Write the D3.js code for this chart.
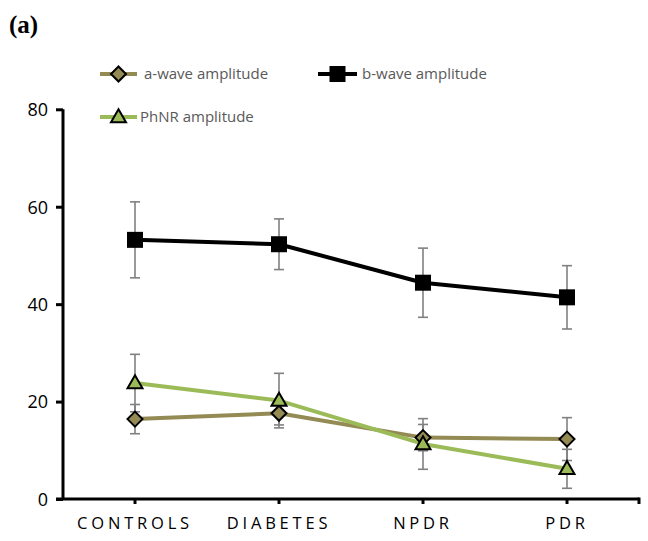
<!DOCTYPE html>
<html>
<head>
<meta charset="utf-8">
<script src="https://cdn.jsdelivr.net/npm/d3@7"></script>
<style>
  html, body { margin: 0; padding: 0; background: #fff; }
  svg { display: block; }
</style>
</head>
<body>
<svg id="chart" width="648" height="541"></svg>
<script>
// ---- Data ----
const categories = ["CONTROLS", "DIABETES", "NPDR", "PDR"];
const yTicks = [0, 20, 40, 60, 80];

const aWave      = [16.4, 17.6, 12.6, 12.3];
const aWaveErr   = [3.0, 2.4, 2.7, 4.4];
const bWave      = [53.2, 52.3, 44.4, 41.4];
const bWaveErr   = [7.8, 5.2, 7.1, 6.5];
const phnr       = [23.8, 20.2, 11.3, 6.2];
const phnrErr    = [5.9, 5.6, 5.2, 4.0];

const seriesNames = ["a-wave amplitude", "b-wave amplitude", "PhNR amplitude"];

// ---- Setup ----
const svg = d3.select("#chart");
const x = d3.scaleBand().domain(categories).range([63, 639]);
const y = d3.scaleLinear().domain([0, 80]).range([499, 109.3]);
const cx = c => x(c) + x.bandwidth() / 2;

const series = [
  { name: seriesNames[0], vals: aWave, err: aWaveErr, color: "#948A54", fill: "#948A54", marker: "diamond", width: 4 },
  { name: seriesNames[1], vals: bWave, err: bWaveErr, color: "#000000", fill: "#000000", marker: "square", width: 4 },
  { name: seriesNames[2], vals: phnr,  err: phnrErr,  color: "#9BBB59", fill: "#9BBB59", marker: "triangle", width: 4 }
];

// Panel label
svg.append("text").attr("x", 9).attr("y", 33)
  .attr("font-family", "'Liberation Serif', 'Times New Roman', serif")
  .attr("font-weight", "bold").attr("font-size", 25).attr("fill", "#000")
  .text("(a)");

// ---- Axes ----
const yAxis = d3.axisLeft(y).tickValues(yTicks).tickSize(7).tickFormat(d3.format("d"));
const gy = svg.append("g").attr("transform", "translate(63,0)").call(yAxis);
gy.select(".domain").attr("stroke", "#000").attr("stroke-width", 3).attr("d", `M0,${y(80)}V${y(0)}`);
gy.selectAll(".tick line").attr("stroke", "#000").attr("stroke-width", 3);
gy.selectAll(".tick text").attr("font-family", "'Open Sans', sans-serif").attr("font-size", 18)
  .attr("fill", "#000").attr("x", -15).attr("dy", "0.35em");

const xAxis = d3.axisBottom(x).tickSize(5).tickSizeOuter(0);
const gx = svg.append("g").attr("transform", `translate(0,${y(0)})`).call(xAxis);
gx.select(".domain").attr("stroke", "#000").attr("stroke-width", 3).attr("d", "M56,0H639");
gx.selectAll(".tick line").attr("stroke", "#000").attr("stroke-width", 3);
gx.selectAll(".tick text").attr("font-family", "'Open Sans', sans-serif").attr("font-size", 16.5)
  .attr("fill", "#000").attr("letter-spacing", "3.8px").attr("y", 18).attr("dy", "0.71em");
// right end tick
gx.append("line").attr("x1", 639).attr("x2", 639).attr("y1", -1.5).attr("y2", 5)
  .attr("stroke", "#000").attr("stroke-width", 3);

// ---- Markers ----
function drawMarker(g, type, fill, px, py) {
  if (type === "square") {
    g.append("rect").attr("x", px - 8).attr("y", py - 8).attr("width", 16).attr("height", 16)
      .attr("fill", fill);
  } else if (type === "diamond") {
    const r = 7.5;
    g.append("path").attr("d", `M${px},${py - r}L${px + r},${py}L${px},${py + r}L${px - r},${py}Z`)
      .attr("fill", fill).attr("stroke", "#000").attr("stroke-width", 2);
  } else {
    const h = 13, w = 15;
    g.append("path").attr("d", `M${px},${py - h * 0.6}L${px + w / 2},${py + h * 0.4}L${px - w / 2},${py + h * 0.4}Z`)
      .attr("fill", fill).attr("stroke", "#000").attr("stroke-width", 2).attr("stroke-linejoin", "miter");
  }
}

// ---- Error bars ----
const gErr = svg.append("g");
series.forEach(s => {
  s.vals.forEach((v, i) => {
    const px = cx(categories[i]);
    const top = y(v + s.err[i]), bot = y(v - s.err[i]);
    gErr.append("line").attr("x1", px).attr("x2", px).attr("y1", top).attr("y2", bot)
      .attr("stroke", "#808080").attr("stroke-width", 1.6);
    [top, bot].forEach(yy => gErr.append("line").attr("x1", px - 5).attr("x2", px + 5)
      .attr("y1", yy).attr("y2", yy).attr("stroke", "#808080").attr("stroke-width", 1.6));
  });
});

// ---- Lines ----
const line = d3.line().x((d, i) => cx(categories[i])).y(d => y(d));
series.forEach(s => {
  const g = svg.append("g");
  g.append("path").datum(s.vals).attr("d", line).attr("fill", "none")
    .attr("stroke", s.color).attr("stroke-width", s.width).attr("stroke-linejoin", "round");
});
series.forEach(s => {
  const g = svg.append("g");
  s.vals.forEach((v, i) => drawMarker(g, s.marker, s.fill, cx(categories[i]), y(v)));
});

// ---- Legend ----
const legendPos = [
  { x1: 100, x2: 137, y: 74, tx: 144 },
  { x1: 318, x2: 357, y: 74, tx: 362 },
  { x1: 100, x2: 137, y: 117, tx: 140 }
];
series.forEach((s, i) => {
  const p = legendPos[i];
  const g = svg.append("g");
  g.append("line").attr("x1", p.x1).attr("x2", p.x2).attr("y1", p.y).attr("y2", p.y)
    .attr("stroke", s.color).attr("stroke-width", s.width);
  drawMarker(g, s.marker, s.fill, (p.x1 + p.x2) / 2, p.y);
  g.append("text").attr("x", p.tx).attr("y", p.y).attr("dy", "0.35em")
    .attr("font-family", "'Open Sans', sans-serif").attr("font-size", 15).attr("fill", "#595959")
    .text(s.name);
});
</script>
</body>
</html>
